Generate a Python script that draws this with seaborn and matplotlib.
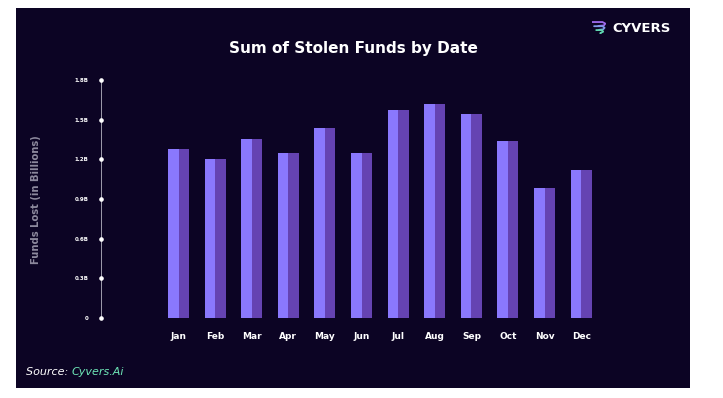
import matplotlib
matplotlib.use("Agg")
import matplotlib.pyplot as plt
from matplotlib.patches import Rectangle
from matplotlib.transforms import blended_transform_factory
import seaborn as sns
import pandas as pd
import numpy as np

months = ["Jan", "Feb", "Mar", "Apr", "May", "Jun", "Jul", "Aug", "Sep", "Oct", "Nov", "Dec"]
funds_lost = [1.28, 1.20, 1.35, 1.25, 1.44, 1.25, 1.57, 1.62, 1.54, 1.34, 0.98, 1.12]
tick_values = [0, 0.3, 0.6, 0.9, 1.2, 1.5, 1.8]
tick_labels = ["0", "0.3B", "0.6B", "0.9B", "1.2B", "1.5B", "1.8B"]
halves = ["light", "dark"]

BG = "#0c0424"
LIGHT = "#8a78fd"
DARK = "#6543b2"

sns.set_theme(style="dark")
plt.rcParams["font.family"] = ["DejaVu Sans"]

df = pd.DataFrame({
    "month": np.repeat(months, 2),
    "value": np.repeat(funds_lost, 2),
    "half": halves * len(months),
})

W, H = 723, 398
fig = plt.figure(figsize=(W / 100, H / 100), dpi=100, facecolor="white")
fig.add_artist(Rectangle((16 / W, 1 - 388 / H), (690 - 16) / W, (388 - 8) / H,
                         transform=fig.transFigure, facecolor=BG, edgecolor="none", zorder=0))

ax_left, ax_right = 101, 620
ax_bottom, ax_top = 318, 80
ax = fig.add_axes([ax_left / W, 1 - ax_bottom / H, (ax_right - ax_left) / W, (ax_bottom - ax_top) / H])
ax.set_facecolor("none")

sns.barplot(data=df, x="month", y="value", hue="half", order=months, hue_order=halves,
            palette={"light": LIGHT, "dark": DARK}, width=0.574, dodge=True,
            saturation=1, legend=False, ax=ax, edgecolor="none", linewidth=0)

ax.set_ylim(0, 1.8)
ax.set_xlim(-2.118, 12.06)
ax.set_yticks(tick_values)
ax.set_yticklabels(tick_labels, fontsize=4, fontweight="bold", color="white")
ax.tick_params(axis="y", length=0, pad=9)
ax.tick_params(axis="x", length=0, pad=10)
ax.set_xticks(range(len(months)))
ax.set_xticklabels(months, fontsize=6.5, fontweight="bold", color="white")
ax.set_xlabel("")
ax.set_ylabel("")
ax.grid(False)
for s in ["top", "right", "bottom"]:
    ax.spines[s].set_visible(False)
ax.spines["left"].set_color("#b8b5c4")
ax.spines["left"].set_linewidth(0.6)

trans = blended_transform_factory(ax.transAxes, ax.transData)
ax.plot([0] * len(tick_values), tick_values, "o", color="white", markersize=2.3,
        transform=trans, clip_on=False, zorder=5)

fig.text(36 / W, 1 - 200 / H, "Funds Lost (in Billions)", rotation=90, ha="center", va="center",
         fontsize=7.2, fontweight="bold", color="#8e8a9e")
fig.text(353 / W, 1 - 48 / H, "Sum of Stolen Funds by Date", ha="center", va="center",
         fontsize=11, fontweight="bold", color="white")
fig.text(612 / W, 1 - 28 / H, "CYVERS", ha="left", va="center",
         fontsize=9.5, fontweight="bold", color="white")
src = fig.text(26 / W, 1 - 372 / H, "Source: ", ha="left", va="center",
               fontsize=8, fontstyle="italic", color="white")
fig.canvas.draw()
bb = src.get_window_extent()
fig.text(bb.x1 / W, 1 - 372 / H, "Cyvers.Ai", ha="left", va="center",
         fontsize=8, fontstyle="italic", color="#6ee7b7")

# logo waves
lax = fig.add_axes([592 / W, 1 - 34 / H, 14 / W, 13 / H])
lax.set_xlim(0, 1)
lax.set_ylim(0, 1)
lax.axis("off")
strokes = [
    ([0.0, 0.75, 0.95, 0.85, 0.45], [0.92, 0.92, 0.8, 0.66, 0.62], "#a06cf0"),
    ([0.15, 0.75, 0.9, 0.8, 0.5], [0.6, 0.6, 0.48, 0.36, 0.32], "#7f9ae8"),
    ([0.3, 0.7, 0.8, 0.6, 0.6], [0.3, 0.3, 0.18, 0.08, 0.0], "#5fd6b0"),
]
for xs, ys, c in strokes:
    lax.plot(xs, ys, color=c, lw=1.3, solid_capstyle="round", solid_joinstyle="round")

fig.savefig("out.png", dpi=100, facecolor="white")
